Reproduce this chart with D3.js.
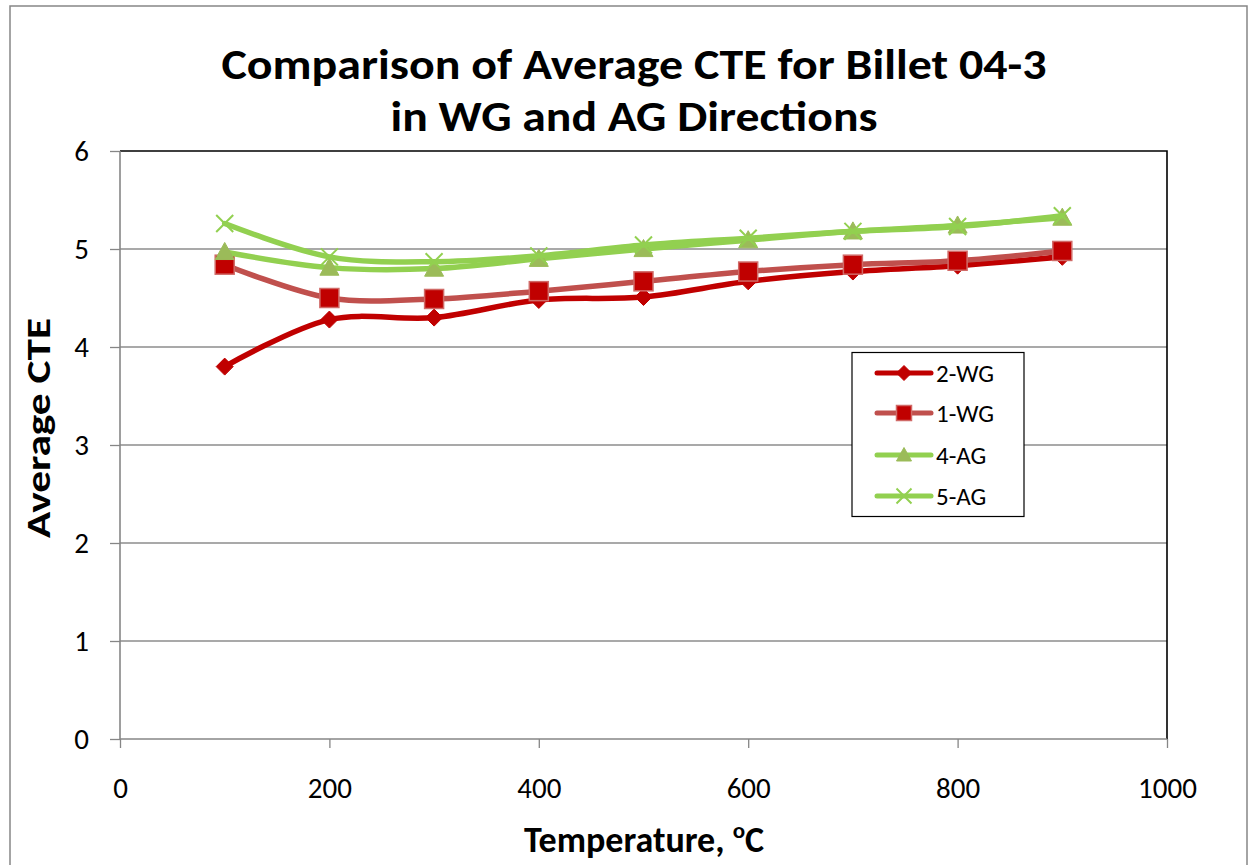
<!DOCTYPE html>
<html>
<head>
<meta charset="utf-8">
<script src="https://cdn.jsdelivr.net/npm/d3@7"></script>
<style>
  html, body { margin: 0; padding: 0; background: #fff; }
  svg { display: block; font-family: Calibri, Carlito, Lato, "Noto Sans", sans-serif; }
</style>
</head>
<body>
<svg id="chart" width="1252" height="865"></svg>
<script>
// ---- data ----
const temperatures = [100, 200, 300, 400, 500, 600, 700, 800, 900];
const wg2 = [3.80, 4.28, 4.30, 4.48, 4.51, 4.67, 4.77, 4.83, 4.92];
const wg1 = [4.84, 4.50, 4.49, 4.57, 4.67, 4.77, 4.84, 4.88, 4.98];
const ag4 = [4.97, 4.81, 4.80, 4.90, 5.00, 5.09, 5.18, 5.24, 5.32];
const ag5 = [5.26, 4.92, 4.87, 4.93, 5.04, 5.11, 5.18, 5.23, 5.34];
const seriesNames = ["2-WG", "1-WG", "4-AG", "5-AG"];
const xTicks = [0, 200, 400, 600, 800, 1000];
const yTicks = [0, 1, 2, 3, 4, 5, 6];
const titleLines = ["Comparison of Average CTE for Billet 04-3", "in WG and AG Directions"];

(function () {
const series = [
  {name: seriesNames[0], values: wg2, line: "#C00000", marker: "diamond", fill: "#C00000", stroke: "#C00000"},
  {name: seriesNames[1], values: wg1, line: "#C0504D", marker: "square", fill: "#C00000", stroke: "#D06A67"},
  {name: seriesNames[2], values: ag4, line: "#92D050", marker: "triangle", fill: "#9BBB59", stroke: "#9BBB59"},
  {name: seriesNames[3], values: ag5, line: "#92D050", marker: "x", fill: "none", stroke: "#92D050"}
];
const fontFam = "Calibri, Carlito, Lato, 'Noto Sans', sans-serif";

const svg = d3.select("#chart");
const pLeft = 120, pRight = 1167, pTop = 151, pBottom = 739;
const x = d3.scaleLinear().domain([0, 1000]).range([pLeft, pRight]);
const y = d3.scaleLinear().domain([0, 6]).range([pBottom, pTop]);

// outer chart border
svg.append("rect").attr("x", 10).attr("y", 6).attr("width", 1237).attr("height", 880)
  .attr("fill", "#fff").attr("stroke", "#868686").attr("stroke-width", 1.5);

// title
svg.append("g").selectAll("text").data(titleLines).join("text")
  .attr("x", 634).attr("y", (d, i) => 79 + i * 52)
  .attr("text-anchor", "middle").attr("font-weight", "bold").attr("font-size", 43)
  .attr("textLength", (d, i) => i === 0 ? 825 : 487).attr("lengthAdjust", "spacingAndGlyphs")
  .attr("fill", "#000").text(d => d);

// gridlines
svg.append("g").selectAll("line").data(yTicks.filter(t => t > 0 && t < 6)).join("line")
  .attr("x1", pLeft).attr("x2", pRight).attr("y1", d => y(d)).attr("y2", d => y(d))
  .attr("stroke", "#8c8c8c").attr("stroke-width", 1.3);

// plot border (top/right black)
svg.append("path").attr("d", `M${pLeft},${pTop}H${pRight}V${pBottom}`)
  .attr("fill", "none").attr("stroke", "#000").attr("stroke-width", 1.6);

// axes
const yAxis = d3.axisLeft(y).tickValues(yTicks).tickSize(10).tickPadding(21).tickFormat(d3.format("d"));
const gy = svg.append("g").attr("transform", `translate(${pLeft},0)`).call(yAxis);
const xAxis = d3.axisBottom(x).tickValues(xTicks).tickSize(9).tickPadding(29).tickFormat(d3.format("d"));
const gx = svg.append("g").attr("transform", `translate(0,${pBottom})`).call(xAxis);
[gx, gy].forEach(g => {
  g.select(".domain").attr("stroke", "#868686").attr("stroke-width", 1.6);
  g.selectAll(".tick line").attr("stroke", "#868686").attr("stroke-width", 1.3);
  g.selectAll(".tick text").attr("font-size", 29).attr("fill", "#000").attr("font-family", fontFam);
});
gy.select(".domain").attr("d", `M0,${pTop}V${pBottom}`);
gx.select(".domain").attr("d", `M${pLeft},0H${pRight}`);

// axis titles
svg.append("text").attr("transform", `translate(50,428) rotate(-90)`)
  .attr("text-anchor", "middle").attr("font-weight", "bold").attr("font-size", 34)
  .attr("textLength", 220).attr("lengthAdjust", "spacingAndGlyphs").text("Average CTE");
const xt = svg.append("text").attr("x", 644).attr("y", 852)
  .attr("text-anchor", "middle").attr("font-weight", "bold").attr("font-size", 36);
xt.append("tspan").text("Temperature, ");
xt.append("tspan").attr("font-size", 23).attr("dy", -14).text("o");
xt.append("tspan").attr("dy", 14).text("C");

// markers
function drawMarker(g, type, fill, stroke, size) {
  const s = size / 2;
  if (type === "diamond") {
    g.append("path").attr("d", `M0,${-s}L${s},0L0,${s}L${-s},0Z`).attr("fill", fill).attr("stroke", stroke).attr("stroke-width", 1);
  } else if (type === "square") {
    g.append("rect").attr("x", -s).attr("y", -s).attr("width", size).attr("height", size)
      .attr("fill", fill).attr("stroke", stroke).attr("stroke-width", 1.5);
  } else if (type === "triangle") {
    g.append("path").attr("d", `M0,${-s}L${s},${s * 0.8}L${-s},${s * 0.8}Z`).attr("fill", fill).attr("stroke", stroke).attr("stroke-width", 1);
  } else if (type === "x") {
    g.append("path").attr("d", `M${-s},${-s}L${s},${s}M${-s},${s}L${s},${-s}`)
      .attr("stroke", stroke).attr("stroke-width", 2).attr("fill", "none");
  }
}
const markerSize = {diamond: 17, square: 19, triangle: 19, x: 17};

const lineGen = d3.line().x(d => x(d[0])).y(d => y(d[1])).curve(d3.curveCatmullRom.alpha(0.5));
series.forEach(s => {
  const pts = temperatures.map((t, i) => [t, s.values[i]]);
  const g = svg.append("g");
  g.append("path").attr("d", lineGen(pts)).attr("fill", "none")
    .attr("stroke", s.line).attr("stroke-width", 5.5).attr("stroke-linejoin", "round").attr("stroke-linecap", "round");
  pts.forEach(p => {
    const mg = g.append("g").attr("transform", `translate(${x(p[0])},${y(p[1])})`);
    drawMarker(mg, s.marker, s.fill, s.stroke, markerSize[s.marker]);
  });
});

// legend
const lg = svg.append("g");
lg.append("rect").attr("x", 852).attr("y", 352.5).attr("width", 172).attr("height", 164)
  .attr("fill", "#fff").attr("stroke", "#000").attr("stroke-width", 1.2);
const rowY = [373, 413, 455, 496];
series.forEach((s, i) => {
  const ry = rowY[i];
  lg.append("line").attr("x1", 877).attr("x2", 931).attr("y1", ry).attr("y2", ry)
    .attr("stroke", s.line).attr("stroke-width", 5).attr("stroke-linecap", "round");
  const mg = lg.append("g").attr("transform", `translate(904,${ry})`);
  drawMarker(mg, s.marker, s.fill, s.stroke, 15);
  lg.append("text").attr("x", 936).attr("y", ry).attr("dy", "0.36em")
    .attr("font-size", 25).attr("fill", "#000").text(s.name);
});
})();
</script>
</body>
</html>
